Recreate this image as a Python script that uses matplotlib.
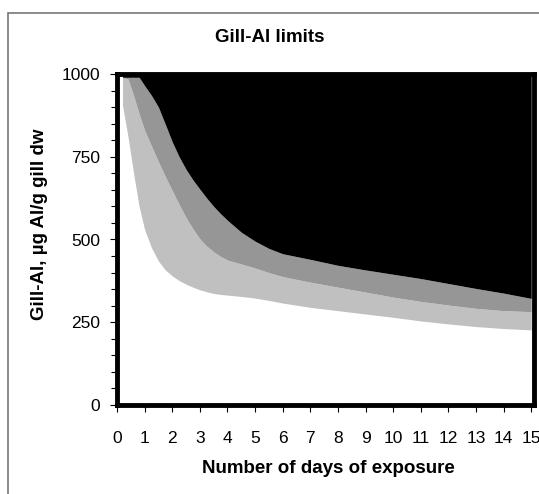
import matplotlib
matplotlib.use("Agg")
import matplotlib.pyplot as plt
from matplotlib.patches import Rectangle
from matplotlib.ticker import MultipleLocator

plt.rcParams['font.family'] = ['Liberation Sans', 'DejaVu Sans']

# days of exposure and the three limit curves (ug Al/g gill dw)
days = [0.2, 0.4, 0.6, 0.8, 1.0, 1.25, 1.5, 1.75, 2.0, 2.25, 2.5, 2.75, 3.0,
        3.25, 3.5, 3.75, 4.0, 4.5, 5.0, 5.5, 6.0, 7.0, 8.0, 9.0, 10.0, 11.0,
        12.0, 13.0, 14.0, 15.0]
lower = [905, 810, 700, 600, 530, 475, 435, 408, 390, 376, 365, 356, 348,
         342, 337, 334, 332, 328, 323, 316, 308, 295, 285, 275, 265, 254,
         245, 237, 231, 227]
middle = [990, 985, 935, 880, 830, 782, 735, 690, 648, 606, 566, 532, 502,
          480, 463, 449, 438, 426, 414, 400, 388, 371, 356, 341, 326, 313,
          302, 292, 285, 282]
upper = [990, 990, 990, 990, 965, 935, 900, 848, 795, 750, 712, 680, 652,
         625, 600, 578, 558, 522, 495, 473, 457, 440, 422, 408, 395, 382,
         367, 352, 338, 322]
top = 1000

fig = plt.figure(figsize=(5.39, 4.94), dpi=100)
ax = fig.add_axes([117/539, 1 - 405/494, (534 - 117)/539, (405 - 74)/494])

ax.fill_between(days, lower, middle, color='#c0c0c0', lw=0)
ax.fill_between(days, middle, upper, color='#969696', lw=0)
ax.fill_between(days, upper, top, color='black', lw=0)

ax.set_xlim(0, 15.1)
ax.set_ylim(0, 1000)
ax.set_xticks(range(0, 16))
ax.set_yticks([0, 250, 500, 750, 1000])
ax.yaxis.set_minor_locator(MultipleLocator(50))

for s in ax.spines.values():
    s.set_linewidth(3.5)
    s.set_color('black')

ax.tick_params(axis='x', direction='out', length=5, width=0.8, pad=14, labelsize=12.5)
ax.tick_params(axis='y', which='major', direction='out', length=5, width=0.8, pad=7, labelsize=12.5)
ax.tick_params(axis='y', which='minor', direction='out', length=4, width=0.8)

ax.set_xlabel('Number of days of exposure', fontsize=13.5, fontweight='bold')
ax.xaxis.set_label_coords((328 - 117)/417, (405 - 468)/331)
ax.set_ylabel('Gill-Al, µg Al/g gill dw', fontsize=13.5, fontweight='bold')
ax.yaxis.set_label_coords((40 - 117)/417, (405 - 224)/331)
ax.xaxis.label.set_va('center')
ax.yaxis.label.set_va('center')

fig.text(270/539, 1 - 38/494, 'Gill-Al limits', fontsize=13.5, fontweight='bold',
         ha='center', va='center')

# chart area border (partly cut off at the right/bottom)
fig.patches.append(Rectangle((8/539, -0.1), 1.2, 1 - 12.5/494 + 0.1,
                             transform=fig.transFigure, fill=False,
                             edgecolor='#777777', lw=1.2))

fig.savefig('out.png', dpi=100)
